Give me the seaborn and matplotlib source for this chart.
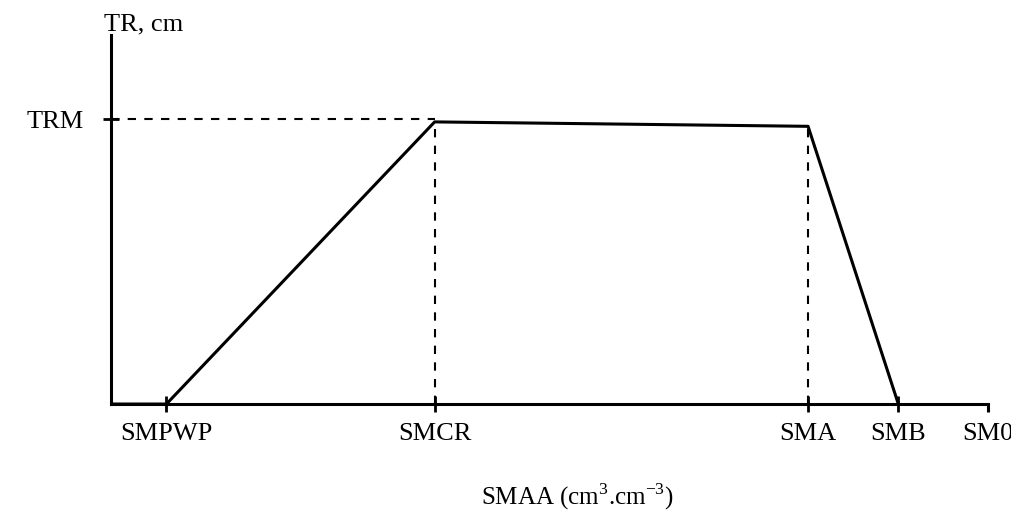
import matplotlib
matplotlib.use("Agg")
import matplotlib.pyplot as plt
import seaborn as sns
import pandas as pd

# Pontos característicos (umidade do solo, fração do eixo)
tick_names = ["SMPWP", "SMCR", "SMA", "SMB"]
tick_pos = [0.063, 0.369, 0.795, 0.898]
end_name = "SM0"
end_pos = 1.0

# Curva TR vs SMAA
curve_x = [0.0, 0.063, 0.369, 0.795, 0.898]
curve_y = [0.0, 0.0, 0.765, 0.753, 0.0]
trm = 0.772

sns.set_theme(style="white")
plt.rcParams['font.family'] = ['Liberation Serif', 'DejaVu Serif']
plt.rcParams['mathtext.fontset'] = 'custom'
plt.rcParams['mathtext.rm'] = 'Liberation Serif'
plt.rcParams['text.color'] = 'black'
plt.rcParams['xtick.color'] = 'black'
plt.rcParams['ytick.color'] = 'black'

fig = plt.figure(figsize=(10.11, 5.18), dpi=100)
ax = fig.add_axes([0.11, 0.22, 0.867, 0.712])

df = pd.DataFrame({'x': curve_x, 'y': curve_y})
sns.lineplot(data=df, x='x', y='y', sort=False, estimator=None,
             color='black', linewidth=2.2, ax=ax)

# linhas tracejadas de referência
dash = (0, (4, 4))
sns.lineplot(x=[0.0, tick_pos[1]], y=[trm, trm], estimator=None, sort=False,
             color='black', linewidth=1.5, linestyle=dash, ax=ax)
sns.lineplot(x=[tick_pos[1], tick_pos[1]], y=[0.0, curve_y[2]], estimator=None, sort=False,
             color='black', linewidth=1.5, linestyle=dash, ax=ax)
sns.lineplot(x=[tick_pos[2], tick_pos[2]], y=[0.0, curve_y[3]], estimator=None, sort=False,
             color='black', linewidth=1.5, linestyle=dash, ax=ax)

ax.set_xlim(0, 1.0)
ax.set_ylim(0, 1.0)
ax.set_xticks(tick_pos)
ax.set_xticklabels(tick_names)
# SM0: só um tique para baixo no fim do eixo
ax.set_xticks([end_pos], minor=True)
ax.set_xticklabels([end_name], minor=True)
ax.set_yticks([trm])
ax.set_yticklabels(["TRM"])
ax.tick_params(axis='x', which='major', direction='inout', length=12, width=2, pad=8,
               labelsize=19, labelcolor='black', bottom=True)
ax.tick_params(axis='x', which='minor', direction='out', length=6, width=2.2, pad=8,
               labelsize=19, labelcolor='black', bottom=True)
ax.tick_params(axis='y', direction='inout', length=12, width=2, pad=14,
               labelsize=19, labelcolor='black', left=True)
for s in ['top', 'right']:
    ax.spines[s].set_visible(False)
for s in ['left', 'bottom']:
    ax.spines[s].set_color('black')
    ax.spines[s].set_linewidth(2.2)
ax.set_xlabel('')
ax.set_ylabel('')
ax.grid(False)

fig.text(0.103, 1 - 30 / 518, "TR, cm", fontsize=19, ha='left', va='baseline')
fig.text(577 / 1011, 1 - 497 / 518, "SMAA (cm$^{3}$.cm$^{-3}$)", fontsize=18,
         ha='center', va='center')

fig.savefig("out.png", dpi=100, facecolor='white')
